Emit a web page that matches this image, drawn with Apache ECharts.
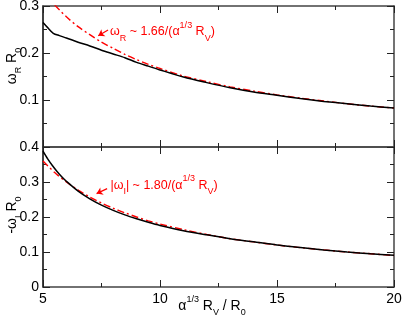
<!DOCTYPE html>
<html>
<head>
<meta charset="utf-8">
<script src="https://cdn.jsdelivr.net/npm/echarts@6/dist/echarts.min.js"></script>
<style>html,body{margin:0;padding:0;background:#fff}#c{width:403px;height:327px}</style>
</head>
<body>
<div id="c"></div>
<script>
// ---- data ----
var xTicks = [5, 10, 15, 20];
var topYTicks = [0.1, 0.2, 0.3];
var botYTicks = [0, 0.1, 0.2, 0.3, 0.4];

var xRealCalc = [5, 5.2, 5.44, 5.7, 6, 6.5, 7, 7.5, 8, 8.5, 9, 9.5, 10, 11, 12, 13, 14, 15, 16, 17, 18, 19, 20];
var omegaRCalc = [0.265, 0.254, 0.242, 0.237, 0.232, 0.223, 0.215, 0.206, 0.198, 0.190, 0.180, 0.172, 0.164, 0.149, 0.137, 0.126, 0.117, 0.110, 0.103, 0.097, 0.092, 0.087, 0.083];

var xRealFit = [5.5, 6, 6.5, 7, 7.5, 8, 8.5, 9, 9.5, 10, 11, 12, 13, 14, 15, 16, 17, 18, 19, 20];
var omegaRFit = [0.302, 0.277, 0.256, 0.239, 0.223, 0.210, 0.197, 0.186, 0.176, 0.167, 0.151, 0.139, 0.128, 0.119, 0.111, 0.104, 0.098, 0.092, 0.087, 0.083];

var xImagCalc = [5, 5.2, 5.4, 5.6, 5.8, 6, 6.5, 7, 7.5, 8, 8.5, 9, 9.5, 10, 11, 12, 13, 14, 15, 16, 17, 18, 19, 20];
var omegaICalc = [0.388, 0.366, 0.347, 0.330, 0.315, 0.302, 0.274, 0.252, 0.234, 0.219, 0.206, 0.195, 0.185, 0.176, 0.161, 0.149, 0.138, 0.129, 0.120, 0.113, 0.106, 0.100, 0.095, 0.091];

var xImagFit = [5, 5.5, 6, 6.5, 7, 7.5, 8, 8.5, 9, 9.5, 10, 11, 12, 13, 14, 15, 16, 17, 18, 19, 20];
var omegaIFit = [0.360, 0.327, 0.300, 0.277, 0.257, 0.240, 0.225, 0.212, 0.200, 0.189, 0.180, 0.164, 0.150, 0.138, 0.129, 0.120, 0.1125, 0.106, 0.100, 0.095, 0.090];

// text
var topAnnot = '{n|ω}{sub|R}{n| ~ 1.66/(α}{sup|1/3}{n| R}{sub|V}{n|)}';
var botAnnot = '{n||ω}{sub|I}{n|| ~ 1.80/(α}{sup|1/3}{n| R}{sub|V}{n|)}';
var topYName = '{n|ω}{sub|R}{n| R}{sub|0}';
var botYName = '{n|-ω}{sub|I}{n| R}{sub|0}';
var xName = '{n|α}{sup|1/3}{n| R}{sub|V}{n| / R}{sub|0}';

// annotation anchors (data space)
var topLabelAt = [7.86, 0.2447];
var topArrow = [[7.78, 0.249], [7.36, 0.2368]];
var botLabelAt = [7.88, 0.2906];
var botArrow = [[7.74, 0.2811], [7.29, 0.2669]];

function pairs(xs, ys) { return xs.map(function (x, i) { return [x, ys[i]]; }); }

var FONT = 'Liberation Sans';
var RED = '#ff0000';
var AXC = '#444';

function rich(c, size) {
  var s = size || 13;
  return {
    n: { fontSize: s, lineHeight: 22, verticalAlign: 'middle', fontFamily: FONT, color: c },
    sub: { fontSize: 9, lineHeight: 9, verticalAlign: 'bottom', fontFamily: FONT, color: c },
    sup: { fontSize: 9, lineHeight: 9, verticalAlign: 'top', fontFamily: FONT, color: c }
  };
}

function xAxisDef(gi, pos, showLabel) {
  return {
    type: 'value', gridIndex: gi, position: pos, min: 5, max: 20, interval: 5,
    axisLine: { show: true, onZero: false, lineStyle: { color: AXC, width: 1.5 } },
    axisTick: { show: true, inside: true, length: 7, lineStyle: { color: '#222', width: 1 } },
    minorTick: { show: true, splitNumber: 2, length: 4, lineStyle: { color: '#222', width: 1 } },
    splitLine: { show: false },
    axisLabel: { show: showLabel, fontSize: 14, color: '#000', fontFamily: FONT, margin: 5,
      formatter: function (v) { return xTicks.indexOf(v) >= 0 ? String(v) : ''; } }
  };
}
function yAxisDef(gi, pos, min, max, ticks, showLabel) {
  return {
    type: 'value', gridIndex: gi, position: pos, min: min, max: max, interval: 0.1,
    axisLine: { show: true, onZero: false, lineStyle: { color: pos === 'left' ? '#000' : AXC, width: 1.5 } },
    axisTick: { show: true, inside: true, length: 7, lineStyle: { color: '#222', width: 1 } },
    minorTick: { show: true, splitNumber: 2, length: 4, lineStyle: { color: '#222', width: 1 } },
    splitLine: { show: false },
    axisLabel: { show: showLabel, fontSize: 14, color: '#000', fontFamily: FONT, margin: 4,
      formatter: function (v) {
        var r = Math.round(v * 10) / 10;
        return ticks.indexOf(r) >= 0 ? String(r) : '';
      } }
  };
}

var chart = echarts.init(document.getElementById('c'), null, { renderer: 'canvas' });
chart.setOption({
  animation: false,
  backgroundColor: '#fff',
  grid: [
    { left: 43, right: 9, top: 6, height: 141, containLabel: false, outerBoundsMode: 'none' },
    { left: 43, right: 9, top: 147, height: 140, containLabel: false, outerBoundsMode: 'none' }
  ],
  xAxis: [
    xAxisDef(0, 'bottom', false),
    xAxisDef(0, 'top', false),
    xAxisDef(1, 'bottom', true),
    xAxisDef(1, 'top', false)
  ],
  yAxis: [
    yAxisDef(0, 'left', 0, 0.3, topYTicks, true),
    yAxisDef(0, 'right', 0, 0.3, topYTicks, false),
    yAxisDef(1, 'left', 0, 0.4, botYTicks, true),
    yAxisDef(1, 'right', 0, 0.4, botYTicks, false)
  ],
  graphic: [
    { type: 'text', x: 12.5, y: 66, rotation: Math.PI / 2,
      style: { text: topYName, rich: rich('#000', 14), align: 'center', verticalAlign: 'middle' } },
    { type: 'text', x: 12.5, y: 215, rotation: Math.PI / 2,
      style: { text: botYName, rich: rich('#000', 14), align: 'center', verticalAlign: 'middle' } },
    { type: 'text', x: 212, y: 306.5,
      style: { text: xName, rich: rich('#000', 14), align: 'center', verticalAlign: 'middle' } }
  ],
  series: [
    {
      type: 'line', xAxisIndex: 0, yAxisIndex: 0, data: pairs(xRealFit, omegaRFit),
      showSymbol: false, smooth: 0.3, clip: true,
      lineStyle: { color: RED, width: 1.4, type: [7, 3, 2, 3] },
      markLine: {
        silent: true, symbol: ['none', 'arrow'], symbolSize: 6,
        lineStyle: { color: RED, width: 1.2, type: 'solid' }, label: { show: false },
        data: [[{ coord: topArrow[0] }, { coord: topArrow[1] }]]
      },
      markPoint: {
        silent: true, symbol: 'circle', symbolSize: 0,
        data: [{ coord: topLabelAt }],
        label: { show: true, position: 'right', distance: 0, formatter: topAnnot, rich: rich(RED, 12.5) }
      }
    },
    {
      type: 'line', xAxisIndex: 0, yAxisIndex: 0, data: pairs(xRealCalc, omegaRCalc),
      showSymbol: false, smooth: 0.3, clip: true,
      lineStyle: { color: '#000', width: 1.5 }
    },
    {
      type: 'line', xAxisIndex: 2, yAxisIndex: 2, data: pairs(xImagFit, omegaIFit),
      showSymbol: false, smooth: 0.3, clip: true,
      lineStyle: { color: RED, width: 1.4, type: [7, 3, 2, 3] },
      markLine: {
        silent: true, symbol: ['none', 'arrow'], symbolSize: 6,
        lineStyle: { color: RED, width: 1.2, type: 'solid' }, label: { show: false },
        data: [[{ coord: botArrow[0] }, { coord: botArrow[1] }]]
      },
      markPoint: {
        silent: true, symbol: 'circle', symbolSize: 0,
        data: [{ coord: botLabelAt }],
        label: { show: true, position: 'right', distance: 0, formatter: botAnnot, rich: rich(RED, 12.5) }
      }
    },
    {
      type: 'line', xAxisIndex: 2, yAxisIndex: 2, data: pairs(xImagCalc, omegaICalc),
      showSymbol: false, smooth: 0.3, clip: true,
      lineStyle: { color: '#000', width: 1.5 }
    }
  ]
});
</script>
</body>
</html>
